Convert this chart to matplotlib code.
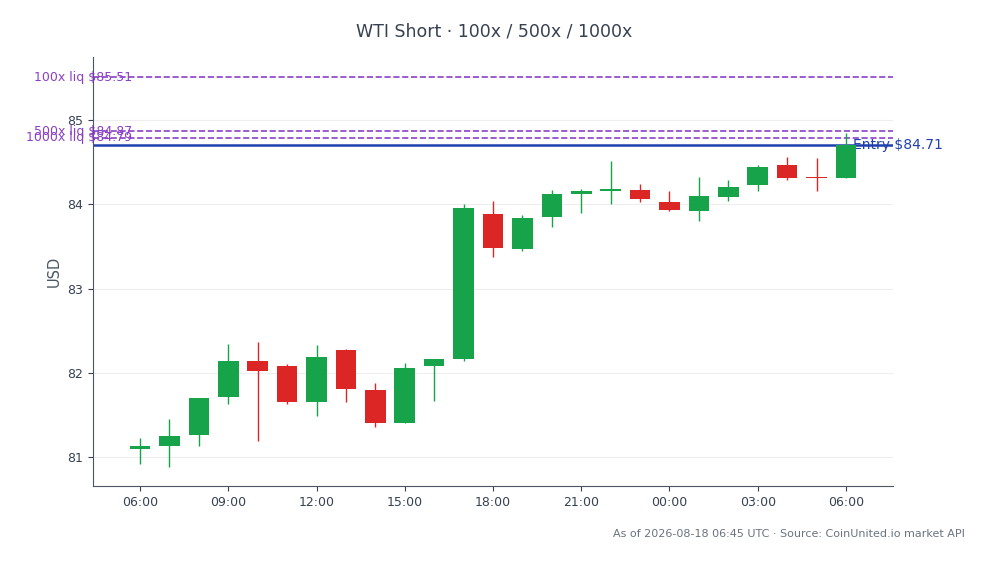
import matplotlib
matplotlib.use("Agg")
import matplotlib.pyplot as plt
import matplotlib.dates as mdates
import pandas as pd

times = pd.date_range("2026-08-17 06:00", periods=25, freq="h")
opens  = [81.10,81.13,81.26,81.72,82.14,82.08,81.66,82.27,81.80,81.41,82.08,82.17,83.89,83.47,83.85,84.13,84.16,84.17,84.03,83.92,84.09,84.23,84.47,84.33,84.32]
highs  = [81.23,81.45,81.71,82.34,82.37,82.11,82.33,82.29,81.88,82.12,82.17,84.01,84.04,83.88,84.17,84.18,84.52,84.24,84.16,84.33,84.29,84.47,84.56,84.55,84.85]
lows   = [80.92,80.88,81.13,81.63,81.19,81.63,81.49,81.66,81.36,81.41,81.67,82.14,83.38,83.45,83.73,83.90,84.01,84.03,83.92,83.81,84.04,84.16,84.29,84.16,84.32]
closes = [81.13,81.25,81.71,82.14,82.03,81.66,82.19,81.81,81.41,82.06,82.17,83.96,83.48,83.84,84.13,84.16,84.17,84.06,83.93,84.10,84.21,84.45,84.32,84.31,84.71]
liq_labels = ["100x liq $85.51","500x liq $84.87","1000x liq $84.79"]
liq_values = [85.51,84.87,84.79]
entry = 84.71

GREEN, RED, PURPLE, BLUE = "#16a34a", "#dc2626", "#8b3fc8", "#1e40af"
fig = plt.figure(figsize=(9.88,5.64), dpi=100)
ax = fig.add_axes([93/988, 1-486/564, 800/988, 429/564])
x = mdates.date2num(times)
w = 0.7/24
for xi,o,h,l,c in zip(x,opens,highs,lows,closes):
    col = GREEN if c >= o else RED
    ax.vlines(xi, l, h, color=col, lw=1, zorder=3)
    ax.bar(xi, max(abs(c-o),0.02), bottom=min(o,c), width=w, color=col, zorder=4)
for lab,v in zip(liq_labels,liq_values):
    ax.axhline(v, color=PURPLE, ls="--", lw=1.2, zorder=2)
    ax.text(0.049, v, lab, transform=ax.get_yaxis_transform(), ha="right", va="center", color=PURPLE, fontsize=9, clip_on=False)
ax.axhline(entry, color=BLUE, lw=1.8, zorder=2)
ax.text(0.95, entry, f"Entry ${entry}", transform=ax.get_yaxis_transform(), ha="left", va="center", color=BLUE, fontsize=10)
ax.set_xlim(x[0]-1.6/24, x[-1]+1.6/24)
ax.set_ylim(80.66, 85.75)
ax.set_yticks([81,82,83,84,85])
ax.xaxis.set_major_locator(mdates.HourLocator(byhour=range(0,24,3)))
ax.xaxis.set_major_formatter(mdates.DateFormatter("%H:%M"))
ax.grid(axis="y", color="#eeeeee", lw=0.8)
ax.set_axisbelow(True)
for s in ["top","right"]:
    ax.spines[s].set_visible(False)
for s in ["left","bottom"]:
    ax.spines[s].set_color("#4b5563")
ax.tick_params(colors="#374151", labelsize=9)
ax.set_ylabel("USD", color="#4b5563", fontsize=10.5)
fig.suptitle("WTI Short · 100x / 500x / 1000x", y=0.96, fontsize=12.5, color="#374151")
fig.text(965/988, 1-534/564, "As of 2026-08-18 06:45 UTC · Source: CoinUnited.io market API", ha="right", va="center", fontsize=8, color="#6b7280")
fig.savefig("out.png", dpi=100)
